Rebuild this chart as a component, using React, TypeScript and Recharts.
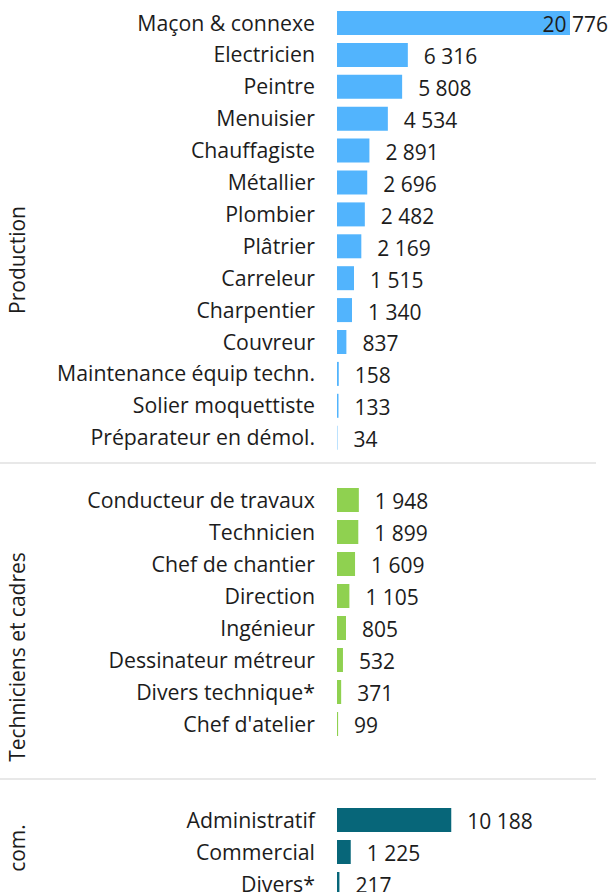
import React from 'react';
import { BarChart, Bar, XAxis, YAxis, LabelList } from 'recharts';

const productionCategories = [
  'Maçon & connexe', 'Electricien', 'Peintre', 'Menuisier', 'Chauffagiste', 'Métallier',
  'Plombier', 'Plâtrier', 'Carreleur', 'Charpentier', 'Couvreur',
  'Maintenance équip techn.', 'Solier moquettiste', 'Préparateur en démol.',
];
const productionValues = [20776, 6316, 5808, 4534, 2891, 2696, 2482, 2169, 1515, 1340, 837, 158, 133, 34];

const techCategories = [
  'Conducteur de travaux', 'Technicien', 'Chef de chantier', 'Direction', 'Ingénieur',
  'Dessinateur métreur', 'Divers technique*', "Chef d'atelier",
];
const techValues = [1948, 1899, 1609, 1105, 805, 532, 371, 99];

const comCategories = ['Administratif', 'Commercial', 'Divers*'];
const comValues = [10188, 1225, 217];

const groupLabels = ['Production', 'Techniciens et cadres', 'com.'];

const FONT = '"Open Sans", sans-serif';
const TEXT = '#1c1c1c';
const MAX = 20776;

const fmt = (v: number) => String(v).replace(/\B(?=(\d{3})+(?!\d))/g, ' ');

const ValueLabel = (props: any) => {
  const { x, y, width, height, value } = props;
  const s = fmt(Number(value));
  const est = s.length * 11.2;
  let tx = x + width + 16;
  let anchor: 'start' | 'end' = 'start';
  if (tx + est > 608) {
    tx = 608;
    anchor = 'end';
  }
  return (
    <text x={tx} y={y + height / 2} dy="0.45em" textAnchor={anchor} fill={TEXT} fontSize={21} fontFamily={FONT}>
      {s}
    </text>
  );
};

type PanelProps = { cats: string[]; vals: number[]; color: string; firstCenter: number; band: number };

const Panel = ({ cats, vals, color, firstCenter, band }: PanelProps) => {
  const data = cats.map((name, i) => ({ name, value: vals[i] }));
  const h = cats.length * band;
  return (
    <div style={{ position: 'absolute', left: 0, top: firstCenter - band / 2, width: 613, height: h }}>
      <BarChart
        width={613}
        height={h}
        data={data}
        layout="vertical"
        margin={{ top: 0, right: 43, bottom: 0, left: 0 }}
      >
        <XAxis type="number" hide domain={[0, MAX]} />
        <YAxis
          type="category"
          dataKey="name"
          width={337}
          axisLine={false}
          tickLine={false}
          tickSize={0}
          tickMargin={22}
          interval={0}
          tick={{ fill: TEXT, fontSize: 21.3, fontFamily: FONT }}
        />
        <Bar dataKey="value" fill={color} barSize={24} isAnimationActive={false}>
          <LabelList dataKey="value" content={ValueLabel} />
        </Bar>
      </BarChart>
    </div>
  );
};

export default function App() {
  return (
    <div style={{ position: 'absolute', left: 0, top: 0, width: 613, height: 892, overflow: 'hidden', background: '#fff' }}>
      <Panel cats={productionCategories} vals={productionValues} color="#52b4fd" firstCenter={22.5} band={31.9} />
      <Panel cats={techCategories} vals={techValues} color="#8fd150" firstCenter={500} band={32} />
      <Panel cats={comCategories} vals={comValues} color="#076679" firstCenter={819.5} band={32} />
      <svg width={613} height={892} style={{ position: 'absolute', left: 0, top: 0, pointerEvents: 'none' }}>
        <rect x={0} y={462} width={596} height={2} fill="#e8e8e8" />
        <rect x={0} y={778} width={596} height={2} fill="#e8e8e8" />
        {[260, 657, 848].map((cy, i) => (
          <text
            key={groupLabels[i]}
            x={0}
            y={0}
            transform={`translate(17, ${cy}) rotate(-90)`}
            textAnchor="middle"
            dy="0.36em"
            fill={TEXT}
            fontSize={21}
            fontFamily={FONT}
          >
            {groupLabels[i]}
          </text>
        ))}
      </svg>
    </div>
  );
}
